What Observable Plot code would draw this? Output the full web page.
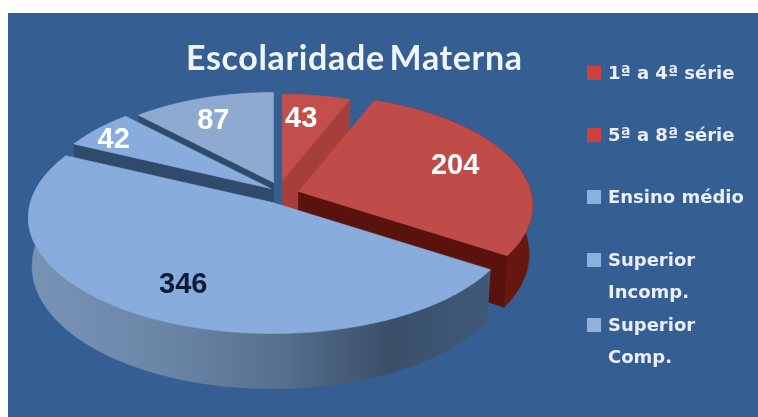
<!DOCTYPE html>
<html><head><meta charset="utf-8">
<script src="https://cdn.jsdelivr.net/npm/d3@7"></script>
<script src="https://cdn.jsdelivr.net/npm/@observablehq/plot@0.6"></script>
<style>
html,body{margin:0;padding:0;background:#fff}
#wrap{position:relative;width:758px;height:417px;overflow:hidden}
#panel{position:absolute;left:8px;top:13px;right:0;bottom:0;background:#355e92}
#chart{position:absolute;left:0;top:0;filter:blur(0.45px)}
#chart svg{display:block;background:transparent}
#title{position:absolute;left:186px;top:36px;font:700 34px Lato,sans-serif;letter-spacing:.65px;word-spacing:-4px;color:#f0f5fb;white-space:nowrap;filter:blur(0.4px)}
.lg{position:absolute;left:608px;font:700 18px/32px "DejaVu Sans",sans-serif;color:#e9eff7;white-space:pre;filter:blur(0.4px)}
.sw{position:absolute;left:587px;width:14px;height:14px;filter:blur(0.5px)}
</style></head><body>
<div id="wrap"><div id="panel"></div><div id="chart"></div><div id="title"></div></div>
<script>
const titleText = "Escolaridade Materna";
const categories = ["1ª a 4ª série","5ª a 8ª série","Ensino médio","Superior\nIncomp.","Superior\nComp."];
const values = [43,204,346,42,87];
const swatchColors = ["#cf4040","#cf4040","#8db1de","#8db1de","#93b1d6"];
const topColors = ["#c34f4c","#c04c49","#88acdc","#88acdc","#8faad0"];
const labelColors = ["#ffffff","#ffffff","#0d1a38","#ffffff","#ffffff"];
const legendRows = [73,135,197,260,325];

// Geometry of the tilted pie (style settings, not data)
const cx=272, cy=202, R=242, H=114, K=0.13, D=48;
const explode=[[10,-22],[26,-11],[0,0],[-2,-14],[1,-20]];
const radial=[0.84,0.96,1,0.95,0.88];
const labelFrac=[0.72,0.68,0.62,0.78,0.72];
const labelNudge=[[-11,11],[4,-4],[-10,15],[-13,0],[-1,7]];

const arcs=d3.pie().sort(null).startAngle(0).endAngle(2*Math.PI)(values);
function P(t,f,z,o){
  const u=Math.sin(t)*f, v=Math.cos(t)*f, w=1+K*v;
  return {x:cx+o[0]+R*u*(1-0.015*z)/w, y:cy+o[1]+(-H*v+D*z)/w};
}
function arcPts(a,b,z,o,f){
  const n=Math.max(2,Math.ceil((b-a)/0.01)),r=[];
  for(let i=0;i<=n;i++) r.push(P(a+(b-a)*i/n,f,z,o));
  return r;
}
const topFace=(i)=>{const a=arcs[i],o=explode[i];return [P(0,0,0,o),...arcPts(a.startAngle,a.endAngle,0,o,radial[i]),P(0,0,0,o)];};
const outerWall=(i,a,b)=>{const o=explode[i],f=radial[i];return [...arcPts(a,b,0,o,f),...arcPts(a,b,1,o,f).reverse()];};
const cutWall=(i,t)=>{const o=explode[i],f=radial[i];return [P(0,0,0,o),P(t,f,0,o),P(t,f,1,o),P(0,0,1,o),P(0,0,0,o)];};
const poly=(pts,fill)=>Plot.line(pts,{x:"x",y:"y",fill,stroke:fill,strokeWidth:0.6,curve:"linear"});

const defs=()=>{
  const s=d3.create("svg:defs");
  const g=s.append("linearGradient").attr("id","mainWall");
  [[0,"#7793b6"],[0.3,"#6a86a7"],[0.55,"#566f8e"],[0.78,"#3b4f69"],[1,"#3e5a79"]]
    .forEach(([o,c])=>g.append("stop").attr("offset",o).attr("stop-color",c));
  const r=s.append("linearGradient").attr("id","redWall");
  [[0,"#7a2219"],[1,"#66160f"]].forEach(([o,c])=>r.append("stop").attr("offset",o).attr("stop-color",c));
  return s.node();
};

const labels=arcs.map((a,i)=>{
  const p=P((a.startAngle+a.endAngle)/2,labelFrac[i],0,explode[i]);
  return {x:p.x+labelNudge[i][0],y:p.y+labelNudge[i][1],text:String(values[i]),color:labelColors[i]};
});

const plot=Plot.plot({
  width:758,height:417,margin:0,
  x:{domain:[0,758],range:[0,758],axis:null},
  y:{domain:[0,417],range:[0,417],axis:null},
  style:{background:"transparent"},
  marks:[
    defs,
    poly(cutWall(4,arcs[4].startAngle),"#2f4b6c"),
    poly(topFace(4),topColors[4]),
    poly(cutWall(3,arcs[3].startAngle),"#2f4b6c"),
    poly(topFace(3),topColors[3]),
    poly(cutWall(0,arcs[0].endAngle),"#a63f3c"),
    poly(topFace(0),topColors[0]),
    poly(outerWall(1,arcs[1].startAngle,arcs[1].endAngle),"url(#redWall)"),
    poly(cutWall(1,arcs[1].endAngle),"#5a120c"),
    poly(topFace(1),topColors[1]),
    poly(outerWall(2,arcs[2].startAngle,arcs[2].endAngle),"url(#mainWall)"),
    poly(topFace(2),topColors[2]),
    Plot.text(labels,{x:"x",y:"y",text:"text",fill:"color",fontSize:29,fontWeight:700,fontFamily:"Liberation Sans",textAnchor:"middle",lineAnchor:"middle"})
  ]
});
document.getElementById("chart").appendChild(plot);
document.getElementById("title").textContent=titleText;
const wrap=document.getElementById("wrap");
categories.forEach((c,i)=>{
  const y=legendRows[i];
  const t=document.createElement("div");t.className="lg";t.textContent=c;t.style.top=(y-16)+"px";wrap.appendChild(t);
  const s=document.createElement("div");s.className="sw";s.style.top=(y-7)+"px";s.style.background=swatchColors[i];wrap.appendChild(s);
});
</script></body></html>
